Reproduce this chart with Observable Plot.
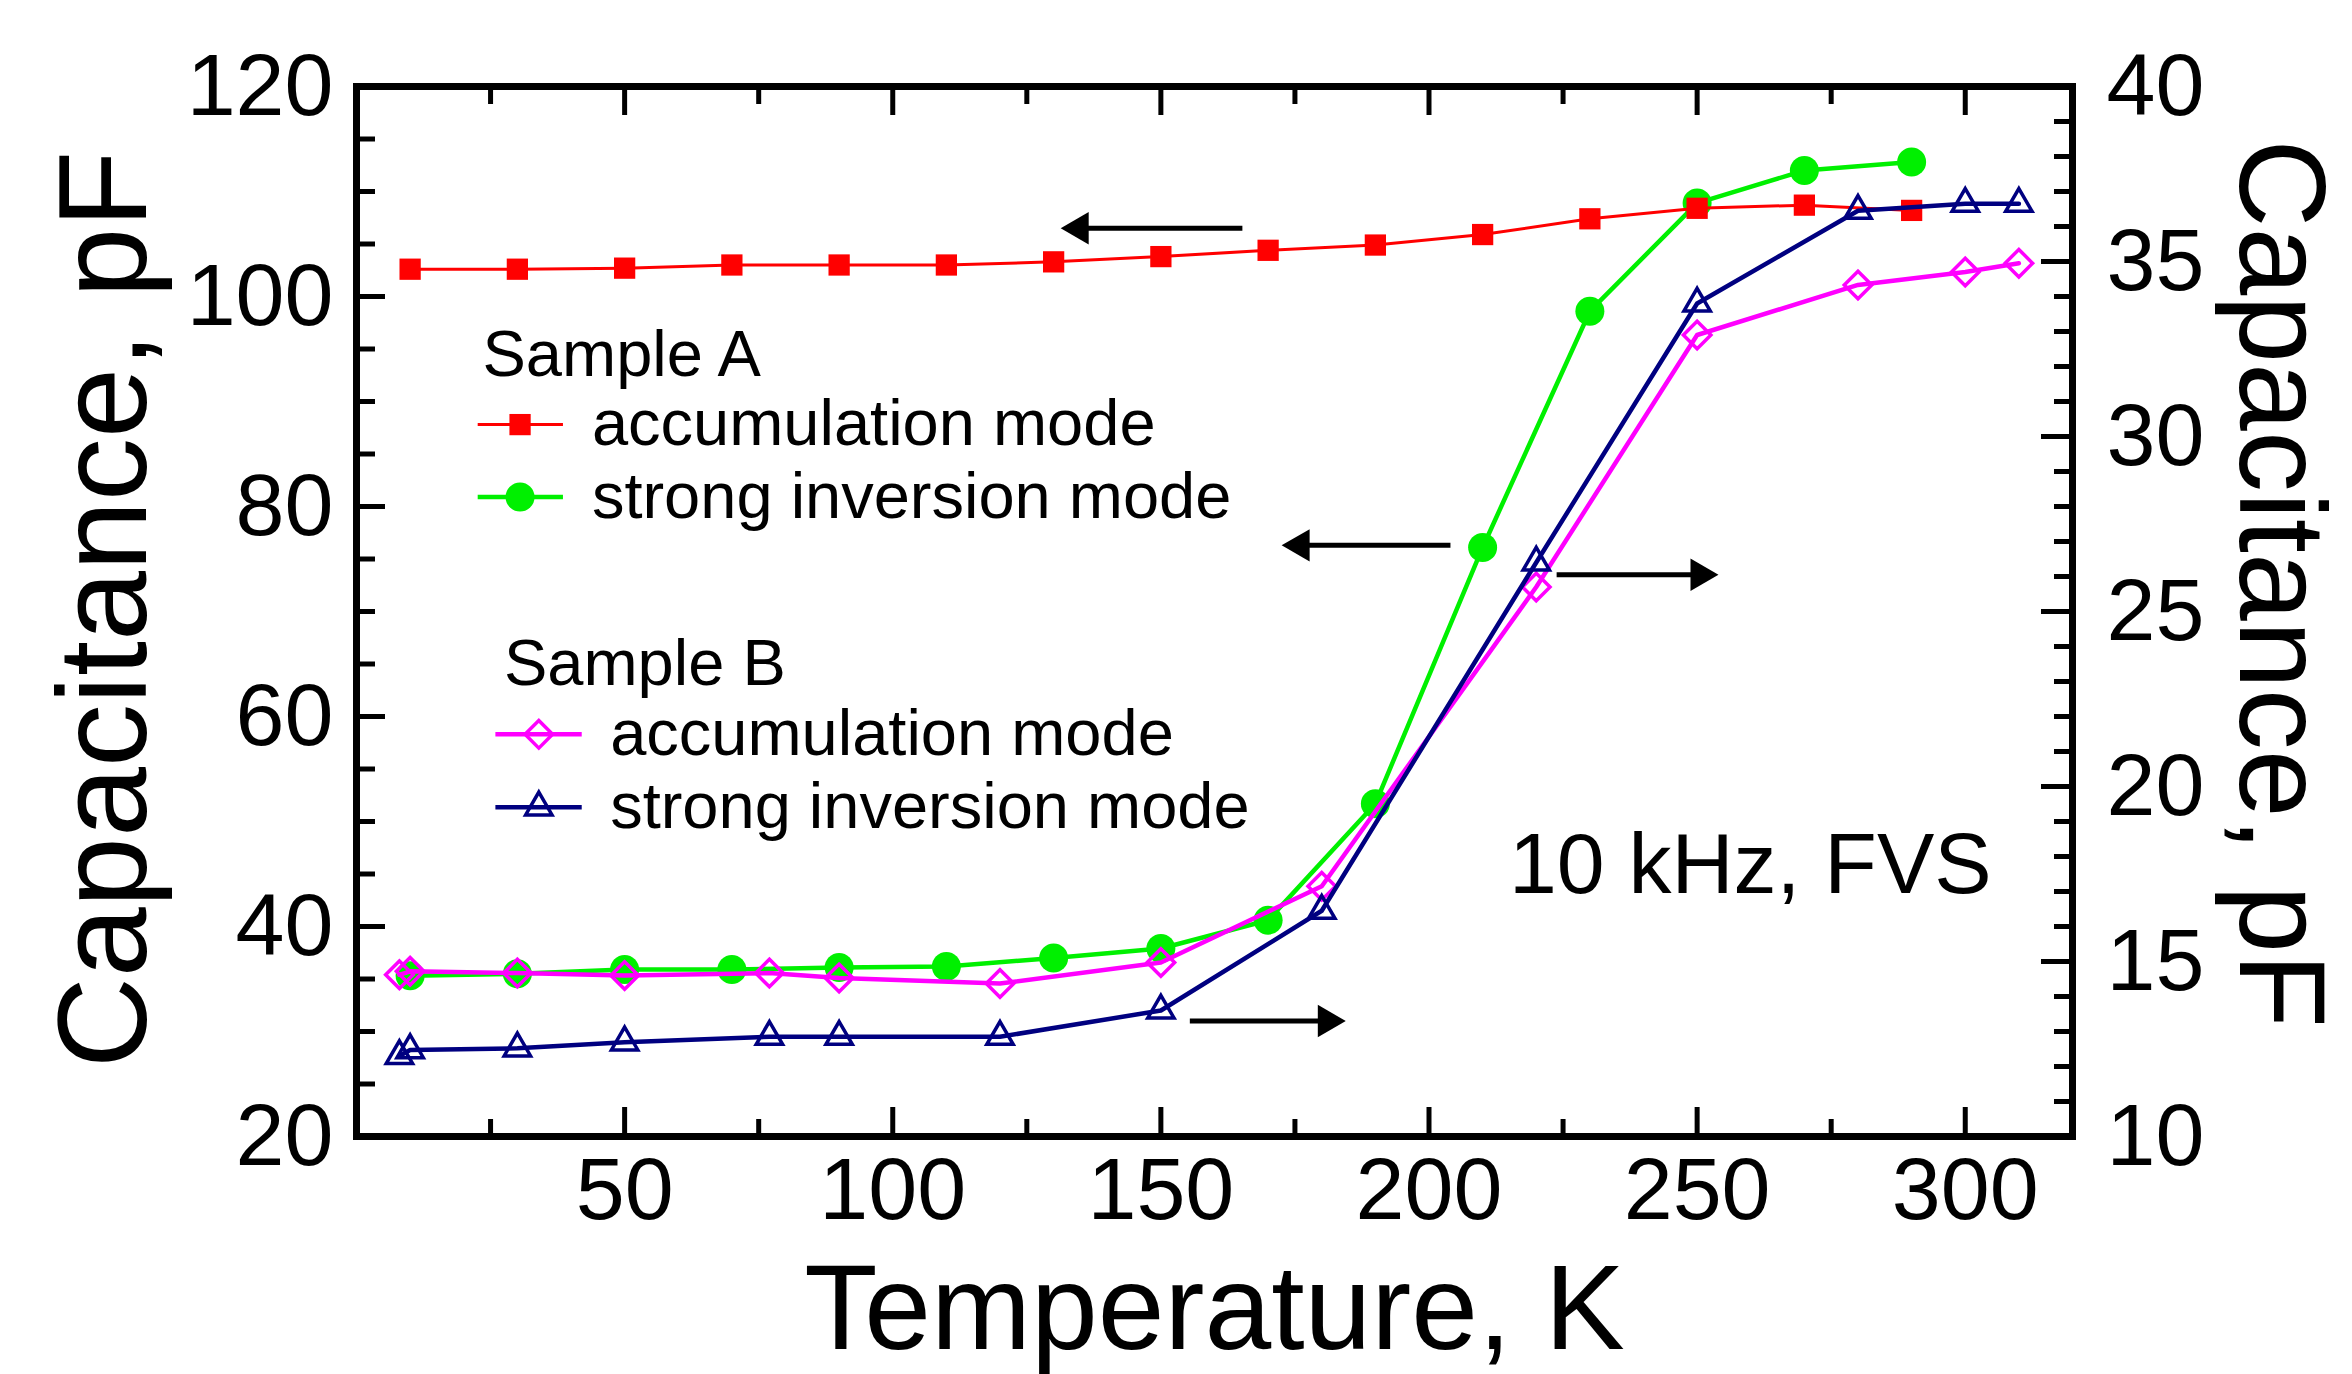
<!DOCTYPE html>
<html>
<head>
<meta charset="utf-8">
<script src="https://cdn.jsdelivr.net/npm/d3@7"></script>
<script src="https://cdn.jsdelivr.net/npm/@observablehq/plot@0.6"></script>
<style>
  html, body { margin: 0; padding: 0; background: #ffffff; }
  #chart { width: 2352px; height: 1374px; }
</style>
</head>
<body>
<div id="chart"></div>
<script>
// ---------- data ----------
// Sample A, left axis (pF)
const tempA = [10, 30, 50, 70, 90, 110, 130, 150, 170, 190, 210, 230, 250, 270, 290];
const accumA = [102.6, 102.6, 102.7, 103.0, 103.0, 103.0, 103.3, 103.8, 104.4, 104.9, 105.9, 107.4, 108.4, 108.7, 108.2];
const inversionA = [35.3, 35.5, 35.9, 35.9, 36.1, 36.2, 37.0, 37.9, 40.6, 51.7, 76.1, 98.6, 108.9, 112.0, 112.8];
// Sample B, right axis (pF)
const tempB = [8, 10, 30, 50, 77, 90, 120, 150, 180, 220, 250, 280, 300, 310];
const accumB = [14.62, 14.72, 14.67, 14.6, 14.67, 14.53, 14.37, 14.97, 17.15, 25.7, 32.9, 34.33, 34.7, 34.95];
const inversionB = [12.3, 12.47, 12.52, 12.69, 12.85, 12.85, 12.85, 13.6, 16.45, 26.4, 33.8, 36.45, 36.65, 36.65];

// tick labels
const leftTickLabels = [20, 40, 60, 80, 100, 120];
const rightTickLabels = [10, 15, 20, 25, 30, 35, 40];
const xTickLabels = [50, 100, 150, 200, 250, 300];

// texts
const xTitle = "Temperature, K";
const yTitle = "Capacitance, pF";
const note = "10 kHz, FVS";
const legendA = "Sample A";
const legendB = "Sample B";
const labelAccum = "accumulation mode";
const labelInv = "strong inversion mode";

// ---------- layout ----------
const W = 2352, H = 1374;
const mL = 356, mR = 280, mT = 86, mB = 238;
const fw = W - mL - mR, fh = H - mT - mB;
const FONT = "'Liberation Sans', Arial, Helvetica, sans-serif";

// right axis (10..40) maps onto left axis (20..120)
const toLeft = r => 20 + (r - 10) / 0.3;
const toRight = c => 10 + 0.3 * (c - 20);

const rows = (ts, vs, f = v => v) => ts.map((t, i) => ({t, c: f(vs[i])}));

const series = [
  {data: rows(tempA, inversionA), color: "#00f000", symbol: "circle", r: 14.5, filled: true, lw: 4.5},
  {data: rows(tempA, accumA), color: "#ff0000", symbol: "square", r: 12, filled: true, lw: 3},
  {data: rows(tempB, accumB, toLeft), color: "#ff00ff", symbol: "diamond2", r: 12.4, filled: false, lw: 4.5},
  {data: rows(tempB, inversionB, toLeft), color: "#000080", symbol: "triangle2", r: 12.6, filled: false, lw: 4.5}
];

// legend positions (data units)
const legendHeads = [
  {text: legendA, x: 23.5, y: 94.4},
  {text: legendB, x: 27.5, y: 65.0}
];
const legendItems = [
  {text: labelAccum, s: 1, x1: 22.6, x2: 38.5, xm: 30.5, xt: 43.9, y: 87.8},
  {text: labelInv,   s: 0, x1: 22.6, x2: 38.5, xm: 30.5, xt: 43.9, y: 80.9},
  {text: labelAccum, s: 2, x1: 25.9, x2: 42.0, xm: 34.0, xt: 47.3, y: 58.3},
  {text: labelInv,   s: 3, x1: 25.9, x2: 42.0, xm: 34.0, xt: 47.3, y: 51.35}
];
// arrows (data units): tail x, head x, y
const arrows = [
  {x1: 165.2, hx: 134.8, y: 106.5, rot: -90},
  {x1: 204.0, hx: 176.0, y: 76.3, rot: -90},
  {x1: 223.8, hx: 250.5, y: 73.5, rot: 90},
  {x1: 155.4, hx: 181.0, y: 31.0, rot: 90}
];

// ticks
const leftAll = d3.range(20, 121, 5);
const rightAll = d3.range(10, 41, 1);
const xAll = d3.range(25, 301, 25);

const marks = [];

// series
for (const s of series) {
  marks.push(Plot.line(s.data, {x: "t", y: "c", stroke: s.color, strokeWidth: s.lw, strokeLinejoin: "round"}));
  marks.push(Plot.dot(s.data, s.filled
    ? {x: "t", y: "c", symbol: s.symbol, r: s.r, fill: s.color, stroke: "none"}
    : {x: "t", y: "c", symbol: s.symbol, r: s.r, stroke: s.color, fill: "none", strokeWidth: 3.5}));
}

// legend
for (const it of legendItems) {
  const s = series[it.s];
  marks.push(Plot.link([it], {x1: "x1", x2: "x2", y1: "y", y2: "y", stroke: s.color, strokeWidth: s.lw}));
  marks.push(Plot.dot([it], s.filled
    ? {x: "xm", y: "y", symbol: s.symbol, r: s.r, fill: s.color, stroke: "none"}
    : {x: "xm", y: "y", symbol: s.symbol, r: s.r, stroke: s.color, fill: "none", strokeWidth: 3.5}));
  marks.push(Plot.text([it], {x: "xt", y: "y", text: "text", textAnchor: "start", lineAnchor: "middle", fontSize: 65, fill: "black"}));
}
marks.push(Plot.text(legendHeads, {x: "x", y: "y", text: "text", textAnchor: "start", lineAnchor: "middle", fontSize: 65, fill: "black"}));

// note
marks.push(Plot.text([note], {x: 214.9, y: 45.8, textAnchor: "start", lineAnchor: "middle", fontSize: 86, fill: "black"}));

// arrows
marks.push(Plot.link(arrows, {x1: "x1", x2: "hx", y1: "y", y2: "y", stroke: "black", strokeWidth: 5}));
marks.push(Plot.dot(arrows, {x: "hx", y: "y", symbol: "triangle", r: 12, fill: "black", stroke: "none", rotate: "rot"}));

// inward ticks
const TW = 5;
marks.push(Plot.tickY(leftAll.filter(v => v % 20 !== 0), {y: d => d, insetRight: fw - 19, strokeWidth: TW, stroke: "black"}));
marks.push(Plot.tickY(leftAll.filter(v => v % 20 === 0), {y: d => d, insetRight: fw - 29, strokeWidth: TW, stroke: "black"}));
marks.push(Plot.tickY(rightAll.filter(v => v % 5 !== 0), {y: d => toLeft(d), insetLeft: fw - 18, strokeWidth: TW, stroke: "black"}));
marks.push(Plot.tickY(rightAll.filter(v => v % 5 === 0), {y: d => toLeft(d), insetLeft: fw - 31, strokeWidth: TW, stroke: "black"}));
marks.push(Plot.tickX(xAll.filter(v => v % 50 !== 0), {x: d => d, insetTop: fh - 17, strokeWidth: TW, stroke: "black"}));
marks.push(Plot.tickX(xAll.filter(v => v % 50 === 0), {x: d => d, insetTop: fh - 29, strokeWidth: TW, stroke: "black"}));
marks.push(Plot.tickX(xAll.filter(v => v % 50 !== 0), {x: d => d, insetBottom: fh - 18, strokeWidth: TW, stroke: "black"}));
marks.push(Plot.tickX(xAll.filter(v => v % 50 === 0), {x: d => d, insetBottom: fh - 29, strokeWidth: TW, stroke: "black"}));

// frame
marks.push(Plot.frame({stroke: "black", strokeWidth: 7}));

// axes tick labels
marks.push(Plot.axisY({anchor: "left", ticks: leftTickLabels, tickSize: 0, tickPadding: 23, fontSize: 88, label: null, fill: "black"}));
marks.push(Plot.axisY({anchor: "right", ticks: rightTickLabels.map(toLeft), tickFormat: v => String(Math.round(toRight(v))), tickSize: 0, tickPadding: 34, fontSize: 88, label: null, fill: "black"}));
marks.push(Plot.axisX({anchor: "bottom", ticks: xTickLabels, tickSize: 0, tickPadding: 20, fontSize: 88, label: null, fill: "black"}));

// axis titles
marks.push(Plot.text([xTitle], {frameAnchor: "bottom", textAnchor: "middle", lineAnchor: "middle", dy: 173.6, fontSize: 120, fill: "black"}));
marks.push(Plot.text([yTitle], {frameAnchor: "left", textAnchor: "middle", lineAnchor: "middle", rotate: -90, dx: -251, dy: -2, fontSize: 126, fill: "black"}));
marks.push(Plot.text([yTitle], {frameAnchor: "right", textAnchor: "middle", lineAnchor: "middle", rotate: 90, dx: 207, dy: -28, fontSize: 122, fill: "black"}));

const chart = Plot.plot({
  width: W,
  height: H,
  marginLeft: mL,
  marginRight: mR,
  marginTop: mT,
  marginBottom: mB,
  x: {domain: [0, 320]},
  y: {domain: [20, 120]},
  style: {fontFamily: FONT, color: "black", background: "white", overflow: "visible"},
  marks
});
document.getElementById("chart").appendChild(chart);
</script>
</body>
</html>
